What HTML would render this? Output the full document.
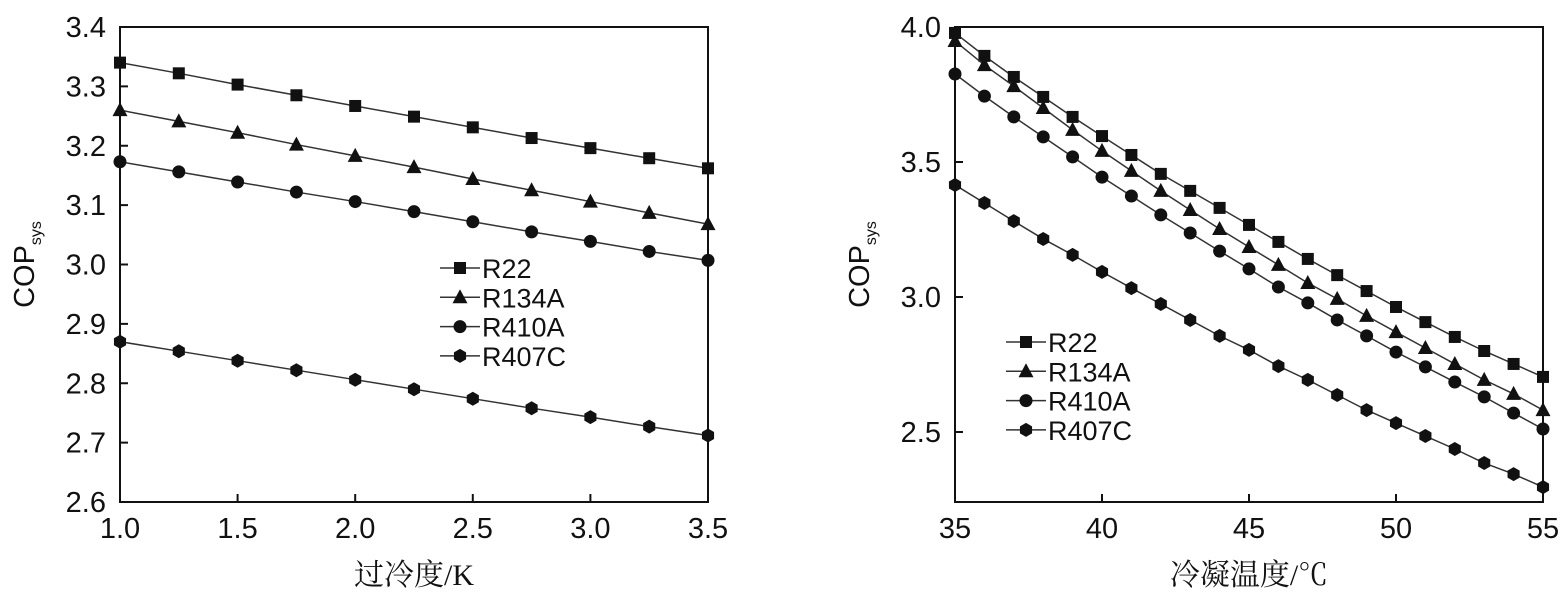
<!DOCTYPE html>
<html><head><meta charset="utf-8"><style>
body{margin:0;background:#fff}
svg text{font-family:"Liberation Sans",sans-serif;fill:#111}
.cn{font-family:"Liberation Serif","Noto Serif CJK SC",serif}
</style></head><body>
<svg id="s" width="1567" height="596" viewBox="0 0 1567 596" xmlns="http://www.w3.org/2000/svg"></svg>
<script>
const seriesNames=["R22","R134A","R410A","R407C"];
const markers=["square","triangle","circle","hexagon"];
const leftX=[1.0,1.25,1.5,1.75,2.0,2.25,2.5,2.75,3.0,3.25,3.5];
const leftR22=[3.34,3.322,3.303,3.285,3.267,3.249,3.231,3.213,3.196,3.179,3.162];
const leftR134A=[3.26,3.241,3.222,3.202,3.183,3.164,3.144,3.125,3.106,3.087,3.068];
const leftR410A=[3.173,3.156,3.139,3.122,3.106,3.089,3.072,3.055,3.039,3.022,3.007];
const leftR407C=[2.870,2.854,2.838,2.822,2.806,2.790,2.774,2.758,2.743,2.727,2.712];
const leftXTicks=["1.0","1.5","2.0","2.5","3.0","3.5"];
const leftYTicks=["2.6","2.7","2.8","2.9","3.0","3.1","3.2","3.3","3.4"];
const rightX=[35,36,37,38,39,40,41,42,43,44,45,46,47,48,49,50,51,52,53,54,55];
const rightR22=[3.978,3.893,3.815,3.741,3.667,3.596,3.526,3.456,3.393,3.330,3.267,3.204,3.141,3.081,3.022,2.963,2.907,2.852,2.800,2.752,2.704];
const rightR134A=[3.948,3.859,3.781,3.700,3.619,3.541,3.467,3.393,3.322,3.252,3.185,3.119,3.052,2.993,2.930,2.870,2.811,2.752,2.693,2.641,2.581];
const rightR410A=[3.826,3.744,3.667,3.593,3.519,3.444,3.374,3.304,3.237,3.170,3.104,3.037,2.978,2.915,2.856,2.796,2.741,2.685,2.630,2.570,2.511];
const rightR407C=[3.415,3.348,3.281,3.215,3.156,3.093,3.033,2.974,2.915,2.856,2.804,2.744,2.693,2.637,2.581,2.533,2.485,2.437,2.385,2.344,2.296];
const rightXTicks=["35","40","45","50","55"];
const rightYTicks=["2.5","3.0","3.5","4.0"];

const NS="http://www.w3.org/2000/svg";
const svg=document.getElementById('s');
function mk(t,a,p){const e=document.createElementNS(NS,t);for(const k in a)e.setAttribute(k,a[k]);(p||svg).appendChild(e);return e;}
function marker(g,type,x,y){
  let e;
  if(type==="square")e=mk('rect',{x:x-6,y:y-6,width:12,height:12,fill:'#111'},g);
  else if(type==="triangle")e=mk('polygon',{points:`${x},${y-8} ${x+7.5},${y+6} ${x-7.5},${y+6}`,fill:'#111'},g);
  else if(type==="circle")e=mk('circle',{cx:x,cy:y,r:6.5,fill:'#111'},g);
  else{let p=[];for(let i=0;i<6;i++){const a=Math.PI/6+i*Math.PI/3;p.push((x+7*Math.cos(a))+","+(y+7*Math.sin(a)));}e=mk('polygon',{points:p.join(' '),fill:'#111'},g);}
  
  
}
function panel(o){
  const g=mk('g',{});
  
  
  const sx=v=>o.x0+(v-o.xmin)/(o.xmax-o.xmin)*(o.x1-o.x0);
  const sy=v=>o.y1-(v-o.ymin)/(o.ymax-o.ymin)*(o.y1-o.y0);
  const fr=mk('rect',{x:o.x0,y:o.y0,width:o.x1-o.x0,height:o.y1-o.y0,fill:'none',stroke:'#111','stroke-width':2},g);
  
  o.xt.forEach(t=>{const x=sx(+t);
    mk('line',{x1:x,x2:x,y1:o.y1,y2:o.y1-8,stroke:'#111','stroke-width':2},g);
    const tx=mk('text',{x:x,y:o.y1+36,'text-anchor':'middle','font-size':29},g);tx.textContent=t;
    });
  o.yt.forEach(t=>{const y=sy(+t);
    mk('line',{x1:o.x0,x2:o.x0+8,y1:y,y2:y,stroke:'#111','stroke-width':2},g);
    const tx=mk('text',{x:o.x0-14,y:y+10,'text-anchor':'end','font-size':29},g);tx.textContent=t;
    });
  o.series.forEach((s,i)=>{
    const sg=mk('g',{},g);
    
    
    mk('polyline',{points:o.xs.map((x,j)=>sx(x)+","+sy(s[j])).join(' '),fill:'none',stroke:'#333','stroke-width':1.5},sg);
    o.xs.forEach((x,j)=>marker(sg,markers[i],sx(x),sy(s[j])));
    const ly=o.ly+i*29.3;
    const lg=mk('g',{},g);
    
    
    mk('line',{x1:o.lx,x2:o.lx+40,y1:ly,y2:ly,stroke:'#333','stroke-width':1.5},lg);
    marker(lg,markers[i],o.lx+20,ly);
    const lt=mk('text',{x:o.lx+42,y:ly+10,'font-size':27},lg);lt.textContent=seriesNames[i];
  });
  const yt=mk('text',{transform:`translate(${o.x0-86},${(o.y0+o.y1)/2}) rotate(-90)`,'text-anchor':'middle','font-size':29},g);
  yt.innerHTML='COP<tspan font-size="16" dy="7">sys</tspan>';
  
  const xt=mk('text',{x:(o.x0+o.x1)/2,y:585,'text-anchor':'middle','font-size':30,class:'cn'},g);xt.textContent=o.xtitle;
  
}
panel({name:'left-chart',x0:120,x1:708,y0:27,y1:502,xmin:1,xmax:3.5,ymin:2.6,ymax:3.4,xs:leftX,
  series:[leftR22,leftR134A,leftR410A,leftR407C],xt:leftXTicks,yt:leftYTicks,lx:440,ly:268,xtitle:'过冷度/K'});
panel({name:'right-chart',x0:955,x1:1543,y0:27,y1:502,xmin:35,xmax:55,ymin:2.2407,ymax:4.0,xs:rightX,
  series:[rightR22,rightR134A,rightR410A,rightR407C],xt:rightXTicks,yt:rightYTicks,lx:1006,ly:342,xtitle:'冷凝温度/℃'});
</script></body></html>
